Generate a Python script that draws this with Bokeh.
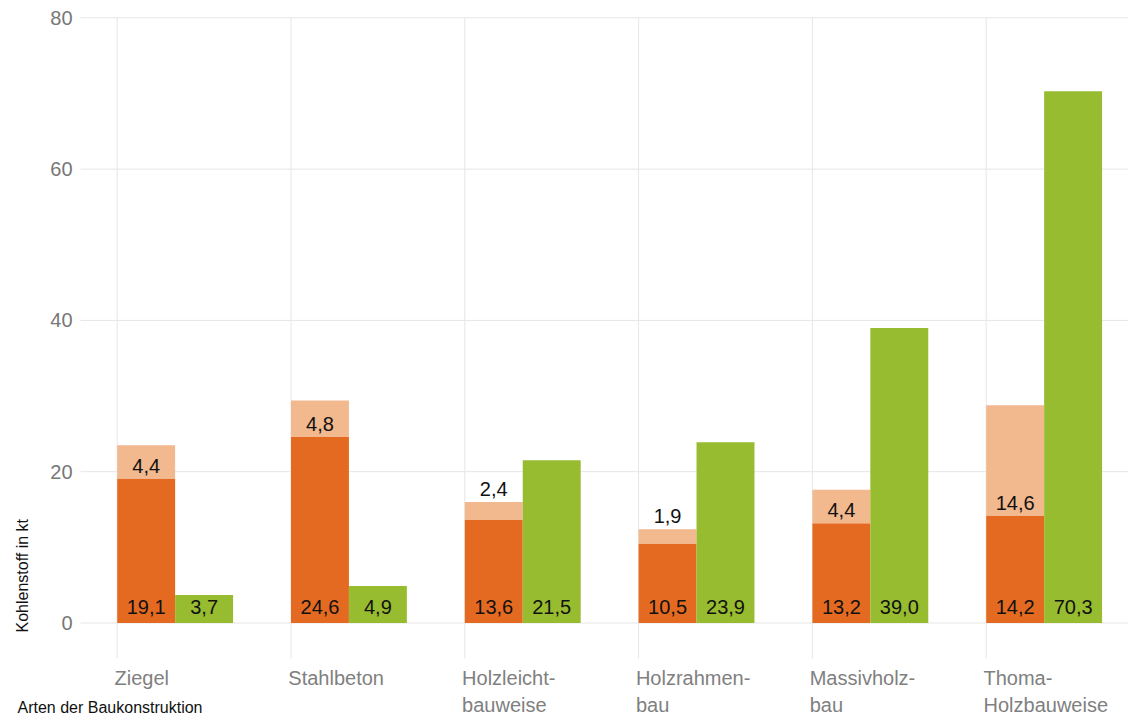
from bokeh.plotting import figure
from bokeh.models import ColumnDataSource, Range1d
from bokeh.core.properties import value
from bokeh.embed import file_html
from bokeh.resources import INLINE

categories = ["Ziegel", "Stahlbeton", "Holzleicht-\nbauweise", "Holzrahmen-\nbau", "Massivholz-\nbau", "Thoma-\nHolzbauweise"]
orange_vals = [19.1, 24.6, 13.6, 10.5, 13.2, 14.2]
light_vals = [4.4, 4.8, 2.4, 1.9, 4.4, 14.6]
green_vals = [3.7, 4.9, 21.5, 23.9, 39.0, 70.3]
y_ticks = [0, 20, 40, 60, 80]
y_tick_labels = ["0", "20", "40", "60", "80"]
x_title = "Arten der Baukonstruktion"
y_title = "Kohlenstoff in kt"

ORANGE = "#E46A22"
LIGHT = "#F2B88E"
GREEN = "#98BC2F"
GRID = "#e6e6e6"
FONT = value("Liberation Sans")

W, H = 1128, 715
# pixel geometry of the plotting area
X0_PX, X_UNIT = 116.7, 173.8      # screen x of category 0 edge, px per category
Y0_PX, Y_UNIT = 622.5, 7.565      # screen y of value 0, px per unit

def dx(px):
    return (px - X0_PX) / X_UNIT

def dy(py):
    return (Y0_PX - py) / Y_UNIT

def fmt(v):
    return f"{v:.1f}".replace(".", ",")

n = len(categories)
idx = list(range(n))
w = 1 / 3
ox = [i + w / 2 for i in idx]
gx = [i + w * 1.5 for i in idx]
light_top = [o + l for o, l in zip(orange_vals, light_vals)]
light_ref = [o if l >= 3 else o + l for o, l in zip(orange_vals, light_vals)]

p = figure(width=W, height=H, output_backend="svg", toolbar_location=None,
           x_range=Range1d(dx(0), dx(W)), y_range=Range1d(dy(H), dy(0)),
           min_border=0, x_axis_location=None, y_axis_location=None)
p.outline_line_color = None
p.xgrid.visible = False
p.ygrid.visible = False

# grid lines
grid_left = dx(80)
p.segment(x0=[grid_left] * len(y_ticks), x1=[dx(W)] * len(y_ticks), y0=y_ticks, y1=y_ticks,
          line_color=GRID, line_width=1)
p.segment(x0=idx, x1=idx, y0=[dy(658)] * n, y1=[max(y_ticks)] * n,
          line_color=GRID, line_width=1)

src = ColumnDataSource(dict(ox=ox, gx=gx, o=orange_vals, g=green_vals, lt=light_top,
                            obase=[dy(Y0_PX - 16)] * n,
                            lref=[r + 13 / Y_UNIT for r in light_ref],
                            otxt=[fmt(v) for v in orange_vals],
                            ltxt=[fmt(v) for v in light_vals],
                            gtxt=[fmt(v) for v in green_vals]))

p.vbar(x="ox", width=w, bottom=0, top="o", source=src, fill_color=ORANGE, line_color=None)
p.vbar(x="ox", width=w, bottom="o", top="lt", source=src, fill_color=LIGHT, line_color=None)
p.vbar(x="gx", width=w, bottom=0, top="g", source=src, fill_color=GREEN, line_color=None)

common = dict(text_font=FONT, text_font_size="20px", text_color="#111111",
              text_align="center", text_baseline="middle", source=src)
p.text(x="ox", y="obase", text="otxt", **common)
p.text(x="gx", y="obase", text="gtxt", **common)
p.text(x="ox", y="lref", text="ltxt", **common)

# y tick labels
p.text(x=[dx(72)] * len(y_ticks), y=y_ticks, text=y_tick_labels, text_font=FONT,
       text_font_size="20px", text_color="#777777", text_align="right", text_baseline="middle")

# category labels
line1 = [c.split("\n")[0] for c in categories]
line2 = [c.split("\n")[1] if "\n" in c else "" for c in categories]
cat = dict(text_font=FONT, text_font_size="20px", text_color="#808080",
           text_align="left", text_baseline="middle")
p.text(x=[i + dx(114) for i in idx], y=[dy(677)] * n, text=line1, **cat)
p.text(x=[i + dx(114) for i in idx], y=[dy(704)] * n, text=line2, **cat)

# axis titles
p.text(x=[dx(17)], y=[dy(707)], text=[x_title], text_font=FONT, text_font_size="16px",
       text_color="#111111", text_align="left", text_baseline="middle")
p.text(x=[dx(21.5)], y=[dy(632)], text=[y_title], angle=1.5707963, text_font=FONT,
       text_font_size="16px", text_color="#111111", text_align="left", text_baseline="middle")

open("out.html", "w").write(file_html(p, INLINE))
